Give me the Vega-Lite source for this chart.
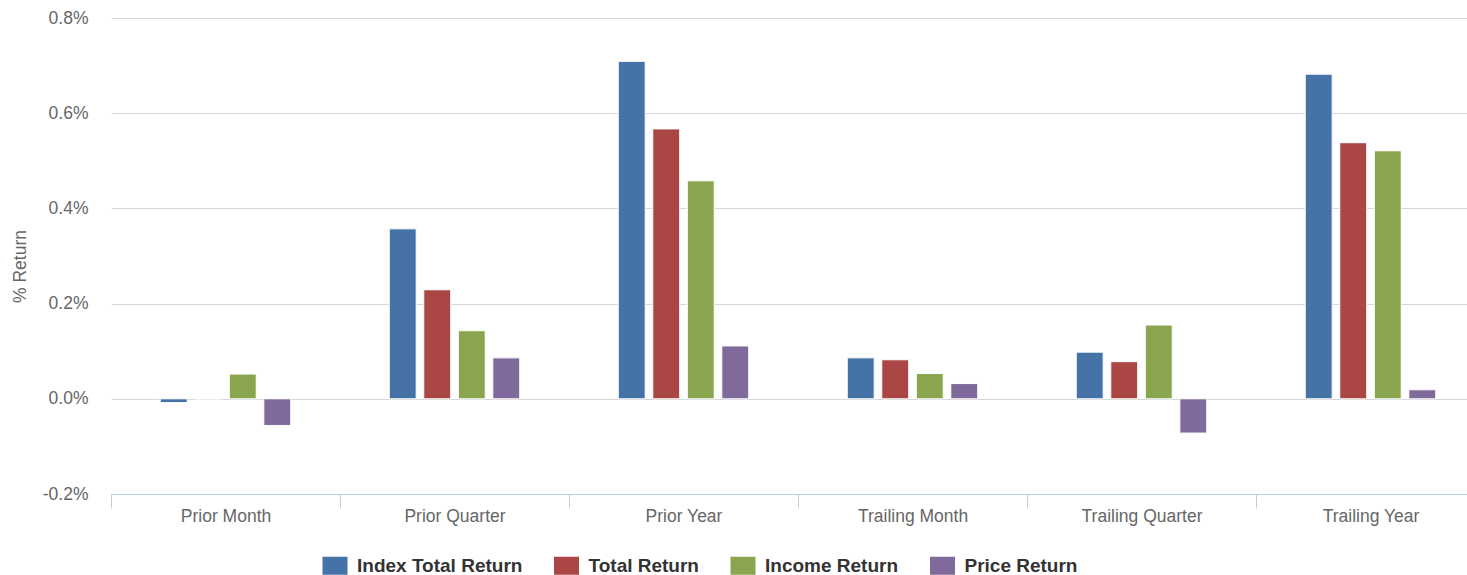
{
  "$schema": "https://vega.github.io/schema/vega-lite/v6.json",
  "width": 1374,
  "height": 476,
  "autosize": "none",
  "padding": {"left": 111, "top": 18, "right": 0, "bottom": 81},
  "background": "white",
  "data": {
    "values": [
      {"period": "Prior Month", "series": "Index Total Return", "value": -0.008},
      {"period": "Prior Month", "series": "Total Return", "value": 0.0},
      {"period": "Prior Month", "series": "Income Return", "value": 0.052},
      {"period": "Prior Month", "series": "Price Return", "value": -0.056},
      {"period": "Prior Quarter", "series": "Index Total Return", "value": 0.357},
      {"period": "Prior Quarter", "series": "Total Return", "value": 0.229},
      {"period": "Prior Quarter", "series": "Income Return", "value": 0.143},
      {"period": "Prior Quarter", "series": "Price Return", "value": 0.086},
      {"period": "Prior Year", "series": "Index Total Return", "value": 0.709},
      {"period": "Prior Year", "series": "Total Return", "value": 0.567},
      {"period": "Prior Year", "series": "Income Return", "value": 0.458},
      {"period": "Prior Year", "series": "Price Return", "value": 0.111},
      {"period": "Trailing Month", "series": "Index Total Return", "value": 0.086},
      {"period": "Trailing Month", "series": "Total Return", "value": 0.082},
      {"period": "Trailing Month", "series": "Income Return", "value": 0.053},
      {"period": "Trailing Month", "series": "Price Return", "value": 0.032},
      {"period": "Trailing Quarter", "series": "Index Total Return", "value": 0.098},
      {"period": "Trailing Quarter", "series": "Total Return", "value": 0.078},
      {"period": "Trailing Quarter", "series": "Income Return", "value": 0.155},
      {"period": "Trailing Quarter", "series": "Price Return", "value": -0.072},
      {"period": "Trailing Year", "series": "Index Total Return", "value": 0.682},
      {"period": "Trailing Year", "series": "Total Return", "value": 0.538},
      {"period": "Trailing Year", "series": "Income Return", "value": 0.521},
      {"period": "Trailing Year", "series": "Price Return", "value": 0.019}
    ]
  },
  "mark": {"type": "bar", "stroke": "white", "strokeWidth": 1},
  "encoding": {
    "x": {
      "field": "period",
      "type": "nominal",
      "sort": ["Prior Month", "Prior Quarter", "Prior Year", "Trailing Month", "Trailing Quarter", "Trailing Year"],
      "scale": {"paddingInner": 0.4, "paddingOuter": 0.2},
      "axis": {
        "title": null,
        "labelAngle": 0,
        "tickOffset": -114.5,
        "labelOffset": 114.5,
        "tickSize": 14,
        "tickColor": "#c0d0e0",
        "domainColor": "#c0d0e0",
        "labelColor": "#666666",
        "labelFontSize": 17.5,
        "labelPadding": -1,
        "grid": false
      }
    },
    "xOffset": {
      "field": "series",
      "type": "nominal",
      "sort": ["Index Total Return", "Total Return", "Income Return", "Price Return"],
      "scale": {"paddingInner": 0.22, "paddingOuter": 0.1}
    },
    "y": {
      "field": "value",
      "type": "quantitative",
      "scale": {"domain": [-0.2, 0.8], "nice": false, "zero": true},
      "axis": {
        "title": "% Return",
        "values": [-0.2, 0, 0.2, 0.4, 0.6, 0.8],
        "labelExpr": "replace(format(datum.value, '.1f'), '\u2212', '-') + '%'",
        "domain": false,
        "ticks": false,
        "grid": true,
        "gridColor": "#d8d8d8",
        "labelColor": "#666666",
        "labelFontSize": 17.5,
        "labelPadding": 23,
        "titleColor": "#666666",
        "titleFontSize": 17.5,
        "titleFontWeight": "normal",
        "titleBaseline": "middle",
        "titleX": -91,
        "titleY": 248
      }
    },
    "color": {
      "field": "series",
      "type": "nominal",
      "sort": ["Index Total Return", "Total Return", "Income Return", "Price Return"],
      "scale": {
        "domain": ["Index Total Return", "Total Return", "Income Return", "Price Return"],
        "range": ["#4572A7", "#AA4643", "#89A54E", "#80699B"]
      },
      "legend": {
        "title": null,
        "orient": "none",
        "direction": "horizontal",
        "legendX": 214.5,
        "legendY": 538,
        "padding": 0,
        "symbolType": "M-1.39,-1H1.39V1H-1.39Z",
        "symbolSize": 324,
        "symbolStrokeWidth": 0,
        "symbolOpacity": 1,
        "labelFontSize": 19,
        "labelFontWeight": "bold",
        "labelColor": "#333333",
        "labelOffset": 12.5,
        "labelLimit": 400,
        "columnPadding": 30.5
      }
    }
  },
  "config": {
    "view": {"stroke": null},
    "font": "Liberation Sans"
  }
}
